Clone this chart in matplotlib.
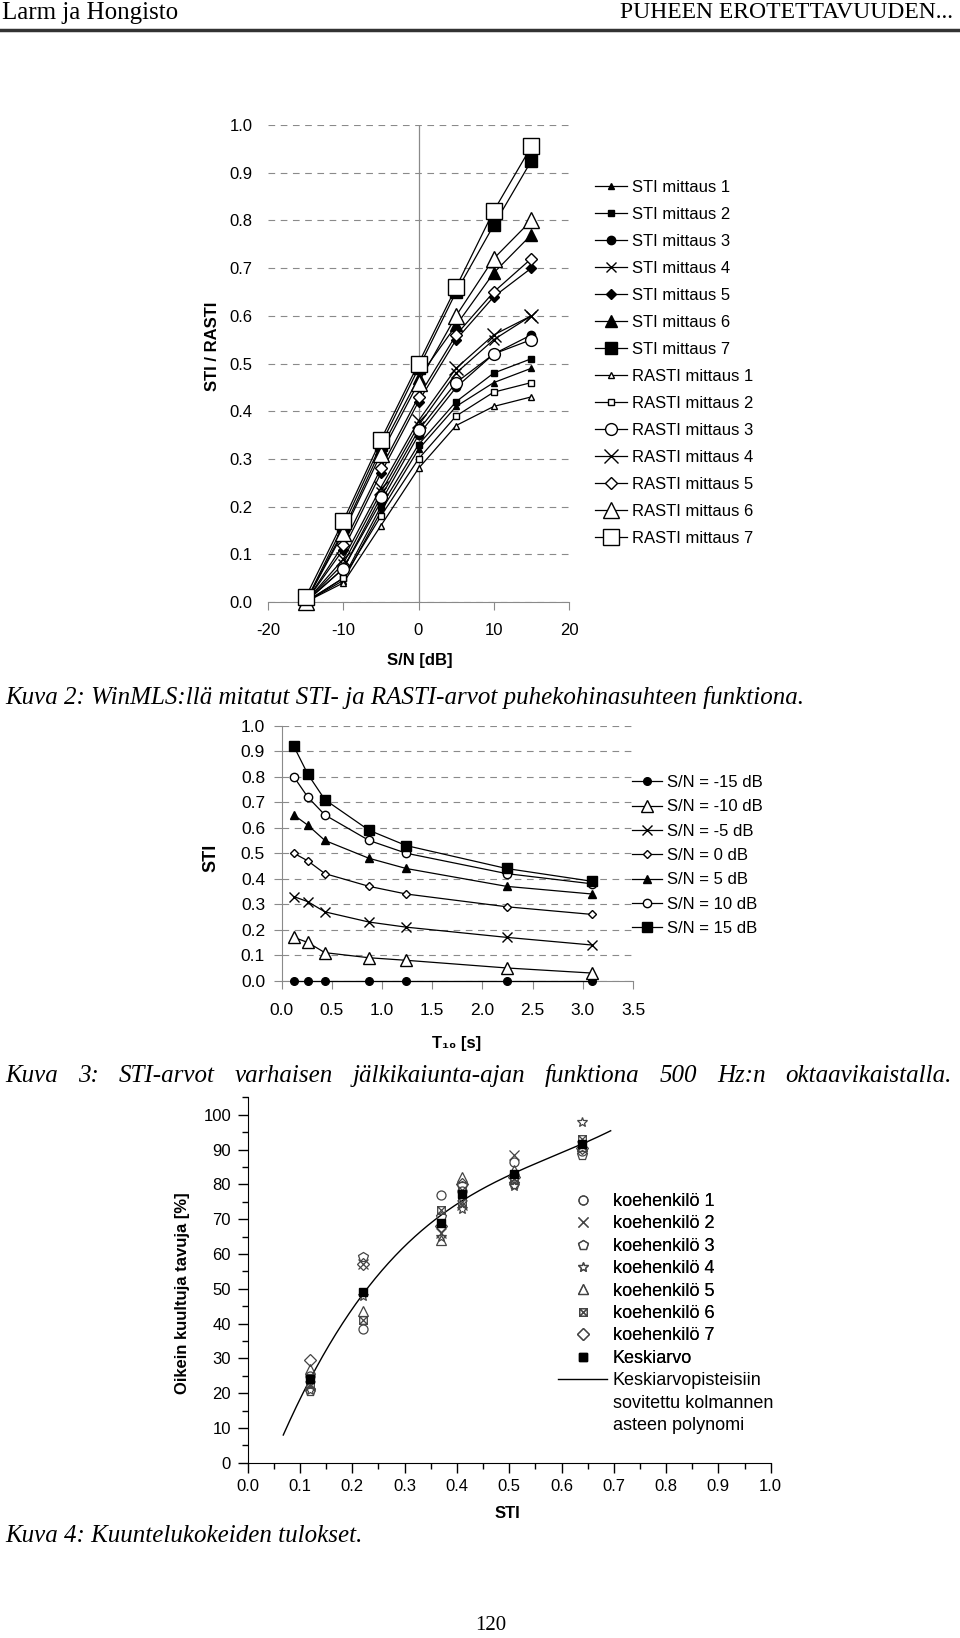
import numpy as np
import matplotlib
matplotlib.use("Agg")
import matplotlib.pyplot as plt
from matplotlib.lines import Line2D
from matplotlib.path import Path
from matplotlib.ticker import MultipleLocator

plt.rcParams['font.family'] = ['Liberation Sans', 'DejaVu Sans']
SERIF = ['Liberation Serif', 'DejaVu Serif']

# --- Kuva 2: STI / RASTI vs S/N ---
sn_db = [-15, -10, -5, 0, 5, 10, 15]
sn_ticks = [-20, -10, 0, 10, 20]
sti_labels = ['STI mittaus %d' % i for i in range(1, 8)]
rasti_labels = ['RASTI mittaus %d' % i for i in range(1, 8)]
sti_vals = [
    [0.00, 0.045, 0.19, 0.32, 0.41, 0.46, 0.49],
    [0.00, 0.05, 0.20, 0.33, 0.42, 0.48, 0.51],
    [0.00, 0.07, 0.21, 0.35, 0.45, 0.52, 0.56],
    [0.00, 0.08, 0.23, 0.37, 0.48, 0.55, 0.60],
    [0.00, 0.11, 0.27, 0.42, 0.55, 0.64, 0.70],
    [0.00, 0.15, 0.32, 0.47, 0.58, 0.69, 0.77],
    [0.00, 0.16, 0.33, 0.49, 0.65, 0.79, 0.925],
]
rasti_vals = [
    [0.00, 0.04, 0.16, 0.28, 0.37, 0.41, 0.43],
    [0.00, 0.05, 0.18, 0.30, 0.39, 0.44, 0.46],
    [0.00, 0.07, 0.22, 0.36, 0.46, 0.52, 0.55],
    [0.00, 0.09, 0.24, 0.38, 0.49, 0.56, 0.60],
    [0.00, 0.12, 0.28, 0.43, 0.56, 0.65, 0.72],
    [0.00, 0.145, 0.31, 0.46, 0.60, 0.72, 0.80],
    [0.01, 0.17, 0.34, 0.50, 0.66, 0.82, 0.955],
]

# --- Kuva 3: STI vs T10 ---
t10 = [0.12, 0.26, 0.43, 0.87, 1.24, 2.24, 3.09]
sn_labels = ['S/N = -15 dB', 'S/N = -10 dB', 'S/N = -5 dB', 'S/N = 0 dB',
             'S/N = 5 dB', 'S/N = 10 dB', 'S/N = 15 dB']
sti_t10 = [
    [0.0, 0.0, 0.0, 0.0, 0.0, 0.0, 0.0],
    [0.17, 0.15, 0.11, 0.09, 0.08, 0.05, 0.03],
    [0.33, 0.31, 0.27, 0.23, 0.21, 0.17, 0.14],
    [0.50, 0.47, 0.42, 0.37, 0.34, 0.29, 0.26],
    [0.65, 0.61, 0.55, 0.48, 0.44, 0.37, 0.34],
    [0.80, 0.72, 0.65, 0.55, 0.50, 0.42, 0.38],
    [0.92, 0.81, 0.71, 0.59, 0.53, 0.44, 0.39],
]

# --- Kuva 4: kuuntelukokeet ---
sti_test = [0.12, 0.22, 0.37, 0.41, 0.51, 0.64]
person_labels = ['koehenkilö %d' % i for i in range(1, 8)]
person_vals = [
    [25.0, 38.5, 77.0, 78.0, 86.5, 89.5],
    [22.0, 57.0, 66.0, 74.0, 88.5, 91.0],
    [20.5, 59.0, 70.5, 79.5, 80.0, 88.5],
    [21.0, 48.0, 65.0, 73.0, 79.5, 98.0],
    [27.0, 43.5, 64.0, 82.0, 84.0, 91.0],
    [22.5, 41.0, 72.5, 75.0, 81.5, 93.0],
    [29.5, 57.0, 68.0, 80.0, 82.0, 90.5],
]
mean_vals = [24.0, 49.0, 69.0, 77.2, 83.1, 91.6]
fit_range = [0.068, 0.694]

W, H = 960, 1638
fig = plt.figure(figsize=(W / 100, H / 100), dpi=100)


def rect(x0, x1, y_top, y_bot):
    return [x0 / W, 1 - y_bot / H, (x1 - x0) / W, (y_bot - y_top) / H]


def justified(text, x0, x1, y, **kw):
    # tasataan rivi molempiin reunoihin kuten alkuperäisessä taitossa
    words = text.split(' ')
    r = fig.canvas.get_renderer()
    arts = [fig.text(0, 1 - y / H, w, va='baseline', ha='left', **kw) for w in words]
    widths = [a.get_window_extent(r).width for a in arts]
    gap = ((x1 - x0) - sum(widths)) / (len(words) - 1)
    x = x0
    for a, w in zip(arts, widths):
        a.set_x(x / W)
        x += w + gap


GRID = '#8a8a8a'

# header
fig.text(2 / W, 1 - 13 / H, 'Larm ja Hongisto', family=SERIF, fontsize=18, va='center', ha='left')
fig.text(953 / W, 1 - 13 / H, 'PUHEEN EROTETTAVUUDEN...', family=SERIF, fontsize=17,
         va='center', ha='right')
fig.add_artist(Line2D([0, 1], [1 - 29.5 / H] * 2, color='#333333', lw=2.5))

# ---------------- chart 1 ----------------
ax1 = fig.add_axes(rect(268, 569, 125, 602))
sti_styles = [('^', 5, 'k'), ('s', 5, 'k'), ('o', 6, 'k'), ('x', 7.5, 'k'),
              ('D', 5.5, 'k'), ('^', 8.5, 'k'), ('s', 9, 'k')]
rasti_styles = [('^', 4.5, 'w'), ('s', 5, 'w'), ('o', 8.5, 'w'), ('x', 9.5, 'w'),
                ('D', 6.5, 'w'), ('^', 11, 'w'), ('s', 11, 'w')]
handles = []
for vals, lab, (m, ms, fc) in zip(sti_vals + rasti_vals, sti_labels + rasti_labels,
                                  sti_styles + rasti_styles):
    h, = ax1.plot(sn_db, vals, color='k', lw=0.9, marker=m, ms=ms, mfc=fc, mec='k',
                  mew=1.0, label=lab, clip_on=False, zorder=3)
    handles.append(h)
ax1.set_xlim(-20, 20)
ax1.set_ylim(0, 1)
ax1.set_xticks(sn_ticks)
ax1.set_xticklabels([str(v) for v in sn_ticks])
ax1.set_yticks(np.arange(0, 1.01, 0.1))
ax1.set_yticklabels(['%.1f' % v for v in np.arange(0, 1.01, 0.1)])
for s in ['top', 'right', 'left']:
    ax1.spines[s].set_visible(False)
ax1.spines['bottom'].set_color(GRID)
ax1.axvline(0, color=GRID, lw=0.9, zorder=1)
ax1.grid(axis='y', color=GRID, ls=(0, (6, 5)), lw=0.8)
ax1.tick_params(axis='y', length=0, pad=11, labelsize=12)
ax1.tick_params(axis='x', length=6, color=GRID, pad=9, labelsize=12)
ax1.set_xlabel('S/N [dB]', fontsize=12, fontweight='bold')
ax1.xaxis.set_label_coords(0.505, -0.107)
ax1.set_ylabel('STI / RASTI', fontsize=12, fontweight='bold')
ax1.yaxis.set_label_coords(-0.159, 0.537)
fig.legend(handles=handles, loc='upper left', bbox_to_anchor=(595 / W, 1 - 180 / H),
           frameon=False, fontsize=12, handlelength=1.9, handletextpad=0.35,
           labelspacing=0.72, borderpad=0, borderaxespad=0)

fig.text(5 / W, 1 - 697 / H,
         'Kuva 2: WinMLS:llä mitatut STI- ja RASTI-arvot puhekohinasuhteen funktiona.',
         family=SERIF, style='italic', fontsize=18, va='center', ha='left')

# ---------------- chart 2 ----------------
ax2 = fig.add_axes(rect(281.7, 633, 725.7, 980.7))
sn_styles = [('o', 5.5, 'k'), ('^', 8, 'w'), ('x', 7, 'k'), ('D', 4.5, 'w'),
             ('^', 6, 'k'), ('o', 6, 'w'), ('s', 6.5, 'k')]
handles2 = []
for vals, lab, (m, ms, fc) in zip(sti_t10, sn_labels, sn_styles):
    h, = ax2.plot(t10, vals, color='k', lw=0.9, marker=m, ms=ms, mfc=fc, mec='k',
                  mew=1.0, label=lab, clip_on=False, zorder=3)
    handles2.append(h)
ax2.set_xlim(0, 3.5)
ax2.set_ylim(0, 1)
ax2.set_xticks(np.arange(0, 3.51, 0.5))
ax2.set_xticklabels(['%.1f' % v for v in np.arange(0, 3.51, 0.5)])
ax2.set_yticks(np.arange(0, 1.01, 0.1))
ax2.set_yticklabels(['%.1f' % v for v in np.arange(0, 1.01, 0.1)])
for s in ['top', 'right']:
    ax2.spines[s].set_visible(False)
ax2.spines['bottom'].set_color(GRID)
ax2.spines['left'].set_color(GRID)
ax2.grid(axis='y', color=GRID, ls=(0, (6, 5)), lw=0.8)
ax2.tick_params(axis='y', length=6, color=GRID, pad=6, labelsize=12.5)
ax2.tick_params(axis='x', length=6, color=GRID, pad=10, labelsize=12.5)
ax2.set_xlabel('T₁₀ [s]', fontsize=12, fontweight='bold')
ax2.xaxis.set_label_coords(0.499, -0.217)
ax2.set_ylabel('STI', fontsize=13, fontweight='bold')
ax2.yaxis.set_label_coords(-0.177, 0.481)
fig.legend(handles=handles2, loc='upper left', bbox_to_anchor=(632 / W, 1 - 775 / H),
           frameon=False, fontsize=12, handlelength=1.8, handletextpad=0.3,
           labelspacing=0.56, borderpad=0, borderaxespad=0)

justified('Kuva 3: STI-arvot varhaisen jälkikaiunta-ajan funktiona 500 Hz:n oktaavikaistalla.',
          5, 952, 1082, family=SERIF, style='italic', fontsize=18)

# ---------------- chart 3 ----------------
ax3 = fig.add_axes(rect(247.7, 770.7, 1097.3, 1462.7))
boxx = Path([(-1, -1), (1, -1), (1, 1), (-1, 1), (-1, -1), (-1, -1), (1, 1), (-1, 1), (1, -1)],
            [Path.MOVETO, Path.LINETO, Path.LINETO, Path.LINETO, Path.CLOSEPOLY,
             Path.MOVETO, Path.LINETO, Path.MOVETO, Path.LINETO])
p_styles = [('o', 6.5), ('x', 7), ('p', 7), ('*', 7.5), ('^', 7), (boxx, 5.5), ('D', 6)]
PC = '#444444'
handles3 = []
for vals, lab, (m, ms) in zip(person_vals, person_labels, p_styles):
    h, = ax3.plot(sti_test, vals, ls='none', marker=m, ms=ms, mfc='none', mec=PC,
                  mew=0.9, label=lab, zorder=3)
    handles3.append(h)
h, = ax3.plot(sti_test, mean_vals, ls='none', marker='s', ms=6, mfc='k', mec='k',
              label='Keskiarvo', zorder=4)
handles3.append(h)
coef = np.polyfit(sti_test, mean_vals, 3)
xs = np.linspace(fit_range[0], fit_range[1], 200)
fit_line, = ax3.plot(xs, np.polyval(coef, xs), color='k', lw=1.0, zorder=2)

ax3.set_xlim(0, 1.0)
ax3.set_ylim(0, 105)
ax3.xaxis.set_minor_locator(MultipleLocator(0.05))
ax3.yaxis.set_minor_locator(MultipleLocator(5))
ax3.set_xticks(np.arange(0, 1.01, 0.1))
ax3.set_xticklabels(['%.1f' % v for v in np.arange(0, 1.01, 0.1)])
ax3.set_yticks(np.arange(0, 101, 10))
for s in ['top', 'right']:
    ax3.spines[s].set_visible(False)
ax3.tick_params(which='major', length=7, width=1, labelsize=12, pad=5)
ax3.tick_params(which='minor', length=4, width=1)
ax3.set_xlabel('STI', fontsize=12, fontweight='bold')
ax3.xaxis.set_label_coords(0.496, -0.118)
ax3.set_ylabel('Oikein kuultuja tavuja [%]', fontsize=12, fontweight='bold')
ax3.yaxis.set_label_coords(-0.111, 0.465)

leg3 = fig.legend(handles=handles3, loc='upper left', bbox_to_anchor=(572 / W, 1 - 1193 / H),
                  frameon=False, fontsize=13, handlelength=1.2, handletextpad=1.05,
                  labelspacing=0.30, borderpad=0, borderaxespad=0)
fig.legend(handles=[fit_line], labels=['Keskiarvopisteisiin'], loc='upper left',
           bbox_to_anchor=(558 / W, 1 - 1372 / H), frameon=False, fontsize=13,
           handlelength=2.7, handletextpad=0.33, borderpad=0, borderaxespad=0)
fig.add_artist(leg3)
fig.text(613 / W, 1 - 1403 / H, 'sovitettu kolmannen', fontsize=13, va='center', ha='left')
fig.text(613 / W, 1 - 1425 / H, 'asteen polynomi', fontsize=13, va='center', ha='left')

fig.text(5 / W, 1 - 1536 / H, 'Kuva 4: Kuuntelukokeiden tulokset.', family=SERIF,
         style='italic', fontsize=18, va='center', ha='left')
fig.text(491 / W, 1 - 1625 / H, '120', family=SERIF, fontsize=15, va='center', ha='center')

fig.savefig('out.png', dpi=100)
